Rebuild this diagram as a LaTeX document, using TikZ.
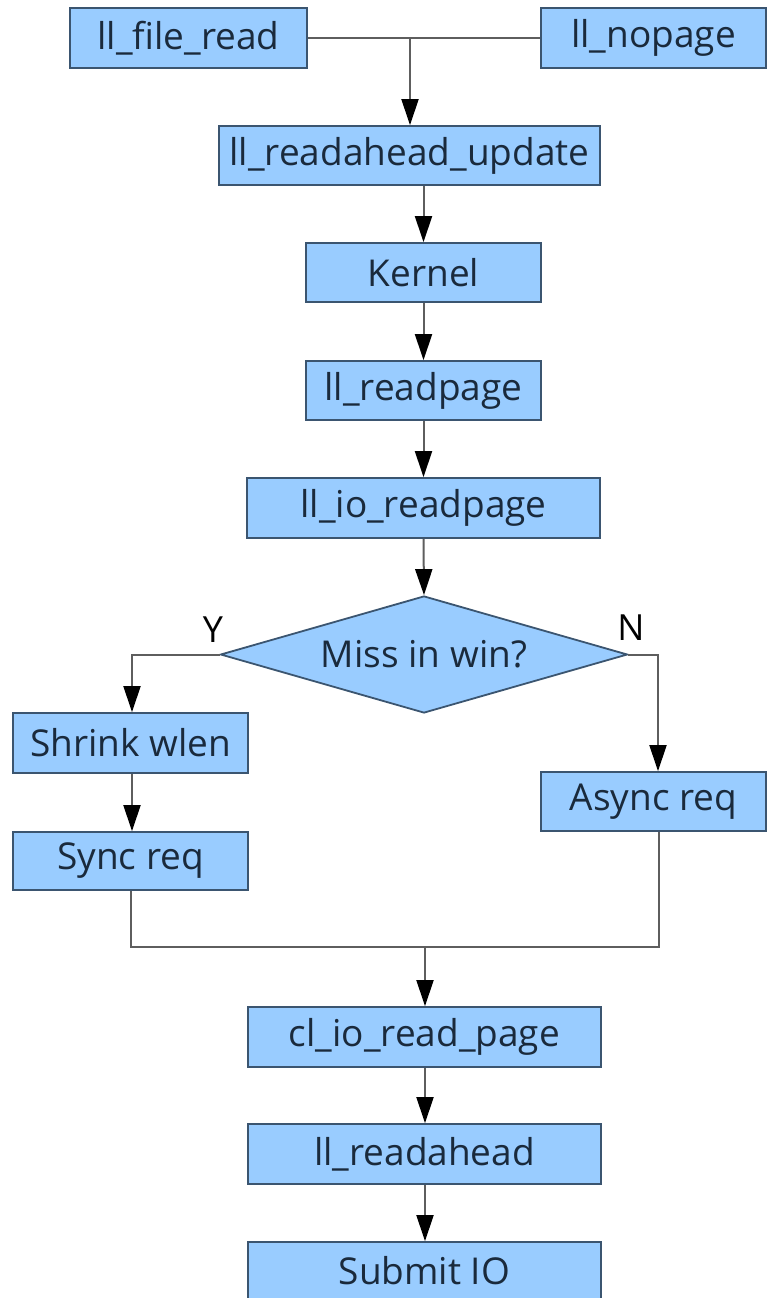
\documentclass[tikz,border=0pt]{standalone}
\usepackage{fontspec}
\setmainfont{Open Sans}
\usetikzlibrary{arrows.meta,shapes.geometric}
\definecolor{boxfill}{HTML}{99CCFF}
\definecolor{boxline}{HTML}{3B5570}
\definecolor{txt}{HTML}{1A2A3C}
\definecolor{conn}{HTML}{5E5E5E}
\tikzset{
  box/.style={draw=boxline, line width=1.8pt, fill=boxfill, rectangle, inner sep=0pt,
    text=txt, font=\fontsize{37}{44}\selectfont},
  dec/.style={draw=boxline, line width=1.8pt, fill=boxfill, diamond, aspect=3.5, inner sep=0pt,
    minimum width=407pt, minimum height=117pt, text=txt, font=\fontsize{37}{44}\selectfont},
  conline/.style={draw=conn, line width=2pt},
  arr/.style={conline, -{Triangle[length=26pt,width=17pt,fill=black,color=black]}},
  lbl/.style={text=black, font=\fontsize{36}{42}\selectfont, inner sep=0pt}
}
\begin{document}
\begin{tikzpicture}[x=1pt,y=-1pt]
\useasboundingbox (0,0) rectangle (768,1298);
% boxes
\node[box, minimum width=237pt, minimum height=60pt] (fr) at (188.5,38) {ll\_file\_read};
\node[box, minimum width=225pt, minimum height=60pt] (np) at (653.5,38) {ll\_nopage};
\node[box, minimum width=381pt, minimum height=59pt] (rau) at (409.5,155.5) {ll\_readahead\_update};
\node[box, minimum width=235pt, minimum height=59pt] (kern) at (423.5,272.5) {Kernel};
\node[box, minimum width=235pt, minimum height=59pt] (rp) at (423.5,390.5) {ll\_readpage};
\node[box, minimum width=353pt, minimum height=60pt] (iorp) at (423.5,508) {ll\_io\_readpage};
\node[dec] (miss) at (424,654.5) {Miss in win?};
\node[box, minimum width=235pt, minimum height=60pt] (shrink) at (130.5,743) {Shrink wlen};
\node[box, minimum width=235pt, minimum height=58pt] (sync) at (130.5,861) {Sync req};
\node[box, minimum width=225pt, minimum height=59pt] (async) at (653.5,801.5) {Async req};
\node[box, minimum width=353pt, minimum height=60pt] (cl) at (424.5,1037) {cl\_io\_read\_page};
\node[box, minimum width=353pt, minimum height=60pt] (ra) at (424.5,1154) {ll\_readahead};
\node[box, minimum width=353pt, minimum height=58pt] (sub) at (424.5,1271) {Submit IO};
% labels
\node[lbl] (ylab) at (213,630) {Y};
\node[lbl] (nlab) at (631,628) {N};
% connectors
\coordinate (j1) at (410,38);
\draw[conline] (fr.east) -- (np.west);
\draw[arr] (j1) -- (j1 |- rau.north);
\draw[arr] (kern.north |- rau.south) -- (kern.north);
\draw[arr] (kern.south) -- (rp.north);
\draw[arr] (rp.south) -- (iorp.north);
\draw[arr] (iorp.south) -- (miss.north);
\coordinate (yb) at (132,654.5);
\draw[arr] (miss.west) -- (yb) -- (yb |- shrink.north);
\draw[arr] (yb |- shrink.south) -- (yb |- sync.north);
\coordinate (nb) at (658,654.5);
\draw[arr] (miss.east) -- (nb) -- (nb |- async.north);
\coordinate (j2) at (425,947);
\coordinate (sb) at (131,947);
\coordinate (ab) at (659,947);
\draw[conline] (sb |- sync.south) -- (sb) -- (ab) -- (ab |- async.south);
\draw[arr] (j2) -- (j2 |- cl.north);
\draw[arr] (j2 |- cl.south) -- (j2 |- ra.north);
\draw[arr] (j2 |- ra.south) -- (j2 |- sub.north);
\end{tikzpicture}
\end{document}
